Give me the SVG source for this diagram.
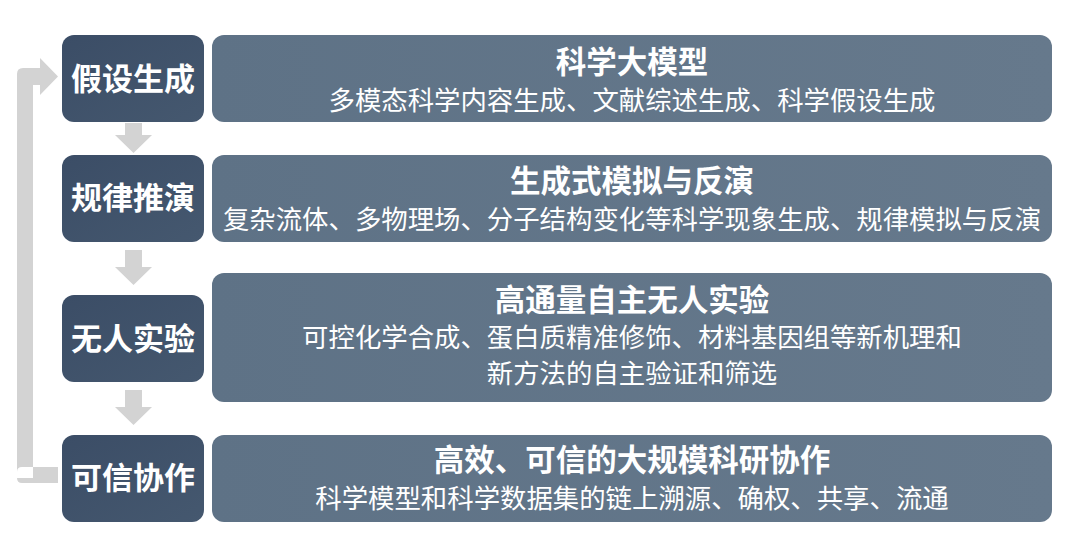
<svg xmlns="http://www.w3.org/2000/svg" width="1080" height="543" viewBox="0 0 1080 543">
<defs>
<linearGradient id="gL" x1="0" y1="0" x2="1" y2="1"><stop offset="0" stop-color="#3b4d66"/><stop offset="1" stop-color="#45586f"/></linearGradient>
<linearGradient id="gR" x1="0" y1="0" x2="1" y2="0"><stop offset="0" stop-color="#5e7286"/><stop offset="1" stop-color="#66798c"/></linearGradient>
<style>
.l{fill:url(#gL)}
.r{fill:url(#gR)}
.a{fill:#d3d3d3}
text{fill:#fff;font-family:"Noto Sans CJK SC","Noto Sans",sans-serif;text-anchor:middle}
.lt{font-size:31px;font-weight:700}
.tt{font-size:30.5px;font-weight:700}
.st{font-size:26.4px}
</style>
</defs>
<rect width="1080" height="543" fill="#fff"/>
<g id="connectors">
<path class="a" d="M125,123 H142 V135 H152 L133.5,153 L115,135 H125 Z"/>
<path class="a" d="M125,250 H142 V267 H152 L133.5,285 L115,267 H125 Z"/>
<path class="a" d="M125,390 H142 V407 H152 L133.5,425 L115,407 H125 Z"/>
<path class="a" d="M58,467 H22 Q17,467 17,472 V478 Q17,483 22,483 H58 Z M17,478 V74 Q17,68 23,68 H40 V58 L58,76.5 L40,95 V85 H33 V478 Z"/>
</g>
<g id="n1">
<rect class="l" x="62" y="35" width="142" height="87" rx="12"/>
<text class="lt" x="133" y="90">假设生成</text>
<rect class="r" x="212" y="35" width="840" height="87" rx="12"/>
<text class="tt" x="632" y="73">科学大模型</text>
<text class="st" x="632" y="110">多模态科学内容生成、文献综述生成、科学假设生成</text>
</g>
<g id="n2">
<rect class="l" x="62" y="155" width="142" height="87" rx="12"/>
<text class="lt" x="133" y="209">规律推演</text>
<rect class="r" x="212" y="155" width="840" height="87" rx="12"/>
<text class="tt" x="632" y="192">生成式模拟与反演</text>
<text class="st" x="632" y="229">复杂流体、多物理场、分子结构变化等科学现象生成、规律模拟与反演</text>
</g>
<g id="n3">
<rect class="l" x="62" y="295" width="142" height="87" rx="12"/>
<text class="lt" x="133" y="350">无人实验</text>
<rect class="r" x="212" y="273" width="840" height="129" rx="12"/>
<text class="tt" x="632" y="311">高通量自主无人实验</text>
<text class="st" x="632" y="347">可控化学合成、蛋白质精准修饰、材料基因组等新机理和</text>
<text class="st" x="632" y="383">新方法的自主验证和筛选</text>
</g>
<g id="n4">
<rect class="l" x="62" y="435" width="142" height="87" rx="12"/>
<text class="lt" x="133" y="489">可信协作</text>
<rect class="r" x="212" y="435" width="840" height="87" rx="12"/>
<text class="tt" x="632" y="471">高效、可信的大规模科研协作</text>
<text class="st" x="632" y="508">科学模型和科学数据集的链上溯源、确权、共享、流通</text>
</g>
</svg>
